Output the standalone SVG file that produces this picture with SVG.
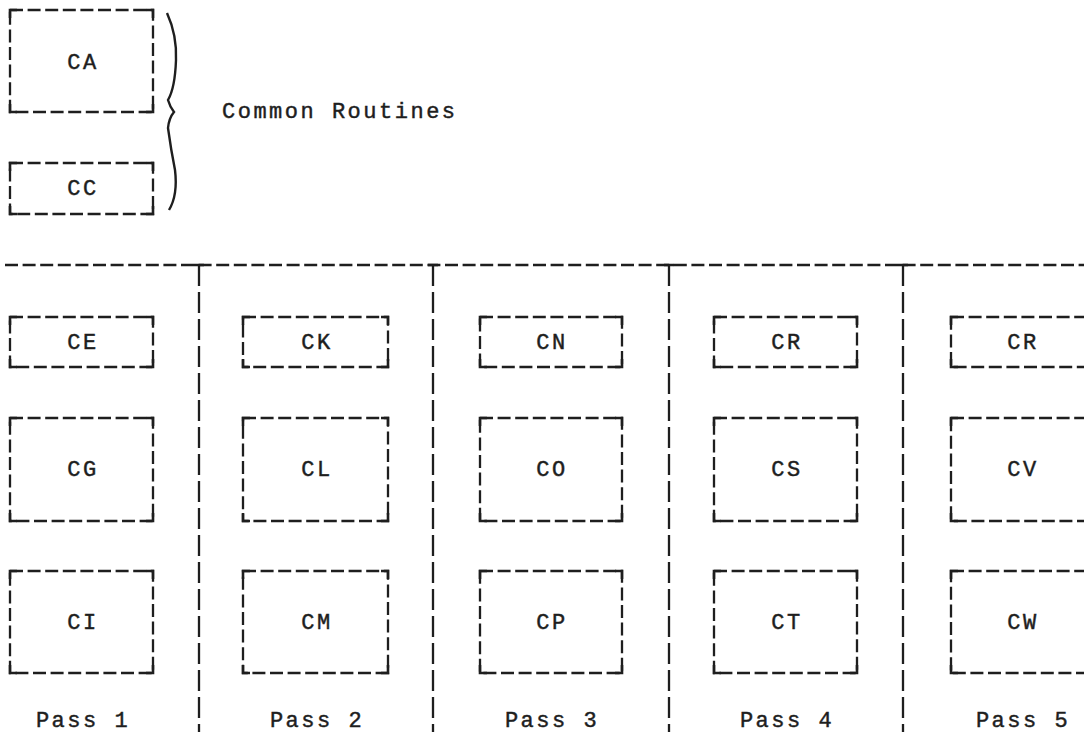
<svg xmlns="http://www.w3.org/2000/svg" width="1084" height="732" viewBox="0 0 1084 732">
<style>
.box{fill:none;stroke:#1e1e1e;stroke-width:2.3;stroke-dasharray:13 4.6}
.cor{fill:none;stroke:#1e1e1e;stroke-width:2.6}
.hl{fill:none;stroke:#1e1e1e;stroke-width:2.3;stroke-dasharray:13 4.6}
.vl{fill:none;stroke:#1e1e1e;stroke-width:2.3;stroke-dasharray:21 6}
.br{fill:none;stroke:#1e1e1e;stroke-width:2.4}
text{font-family:"Liberation Mono","Courier New",monospace;font-size:22px;fill:#1e1e1e;stroke:#1e1e1e;stroke-width:0.45;letter-spacing:2.5px}
.c{text-anchor:middle}
</style>
<rect width="1084" height="732" fill="#ffffff"/>
<g id="connectors">
<path class="hl" d="M5 265 H1084"/>
<path class="vl" d="M199 265 V732 M433 265 V732 M669 265 V732 M903 265 V732"/>
<path class="cor" d="M194 265 H204 M428 265 H438 M664 265 H674 M898 265 H908"/>
</g>
<g id="brace">
<path class="br" d="M167 13 Q177 35 176 60 Q175 88 168 100 Q170 107 174 112 Q169 118 168 128 Q171 150 175 170 Q178 195 169 210"/>
<text x="222" y="118">Common Routines</text>
</g>
<g id="CA"><rect class="box" x="10" y="10" width="143" height="102"/><path class="cor" d="M10 18 V10 H17 M146 10 H153 V18 M10 104 V112 H17 M146 112 H153 V104"/><text class="c" x="83" y="69">CA</text></g>
<g id="CC"><rect class="box" x="10" y="163" width="143" height="51"/><path class="cor" d="M10 171 V163 H17 M146 163 H153 V171 M10 206 V214 H17 M146 214 H153 V206"/><text class="c" x="83" y="195">CC</text></g>

<g id="CE"><rect class="box" x="10" y="317" width="143" height="50"/><path class="cor" d="M10 325 V317 H17 M146 317 H153 V325 M10 359 V367 H17 M146 367 H153 V359"/><text class="c" x="83" y="349">CE</text></g>
<g id="CG"><rect class="box" x="10" y="418" width="143" height="103"/><path class="cor" d="M10 426 V418 H17 M146 418 H153 V426 M10 513 V521 H17 M146 521 H153 V513"/><text class="c" x="83" y="476">CG</text></g>
<g id="CI"><rect class="box" x="10" y="571" width="143" height="102"/><path class="cor" d="M10 579 V571 H17 M146 571 H153 V579 M10 665 V673 H17 M146 673 H153 V665"/><text class="c" x="83" y="629">CI</text></g>

<g id="CK"><rect class="box" x="243" y="317" width="145" height="50"/><path class="cor" d="M243 325 V317 H250 M381 317 H388 V325 M243 359 V367 H250 M381 367 H388 V359"/><text class="c" x="317" y="349">CK</text></g>
<g id="CL"><rect class="box" x="243" y="418" width="145" height="103"/><path class="cor" d="M243 426 V418 H250 M381 418 H388 V426 M243 513 V521 H250 M381 521 H388 V513"/><text class="c" x="317" y="476">CL</text></g>
<g id="CM"><rect class="box" x="243" y="571" width="145" height="102"/><path class="cor" d="M243 579 V571 H250 M381 571 H388 V579 M243 665 V673 H250 M381 673 H388 V665"/><text class="c" x="317" y="629">CM</text></g>

<g id="CN"><rect class="box" x="480" y="317" width="142" height="50"/><path class="cor" d="M480 325 V317 H487 M615 317 H622 V325 M480 359 V367 H487 M615 367 H622 V359"/><text class="c" x="552" y="349">CN</text></g>
<g id="CO"><rect class="box" x="480" y="418" width="142" height="103"/><path class="cor" d="M480 426 V418 H487 M615 418 H622 V426 M480 513 V521 H487 M615 521 H622 V513"/><text class="c" x="552" y="476">CO</text></g>
<g id="CP"><rect class="box" x="480" y="571" width="142" height="102"/><path class="cor" d="M480 579 V571 H487 M615 571 H622 V579 M480 665 V673 H487 M615 673 H622 V665"/><text class="c" x="552" y="629">CP</text></g>

<g id="CR4"><rect class="box" x="714" y="317" width="143" height="50"/><path class="cor" d="M714 325 V317 H721 M850 317 H857 V325 M714 359 V367 H721 M850 367 H857 V359"/><text class="c" x="787" y="349">CR</text></g>
<g id="CS"><rect class="box" x="714" y="418" width="143" height="103"/><path class="cor" d="M714 426 V418 H721 M850 418 H857 V426 M714 513 V521 H721 M850 521 H857 V513"/><text class="c" x="787" y="476">CS</text></g>
<g id="CT"><rect class="box" x="714" y="571" width="143" height="102"/><path class="cor" d="M714 579 V571 H721 M850 571 H857 V579 M714 665 V673 H721 M850 673 H857 V665"/><text class="c" x="787" y="629">CT</text></g>

<g id="CR5"><rect class="box" x="951" y="317" width="150" height="50"/><path class="cor" d="M951 325 V317 H958 M951 359 V367 H958"/><text class="c" x="1023" y="349">CR</text></g>
<g id="CV"><rect class="box" x="951" y="418" width="150" height="103"/><path class="cor" d="M951 426 V418 H958 M951 513 V521 H958"/><text class="c" x="1023" y="476">CV</text></g>
<g id="CW"><rect class="box" x="951" y="571" width="150" height="102"/><path class="cor" d="M951 579 V571 H958 M951 665 V673 H958"/><text class="c" x="1023" y="629">CW</text></g>

<g id="labels">
<text class="c" x="83" y="727">Pass 1</text>
<text class="c" x="317" y="727">Pass 2</text>
<text class="c" x="552" y="727">Pass 3</text>
<text class="c" x="787" y="727">Pass 4</text>
<text class="c" x="1023" y="727">Pass 5</text>
</g>
</svg>
